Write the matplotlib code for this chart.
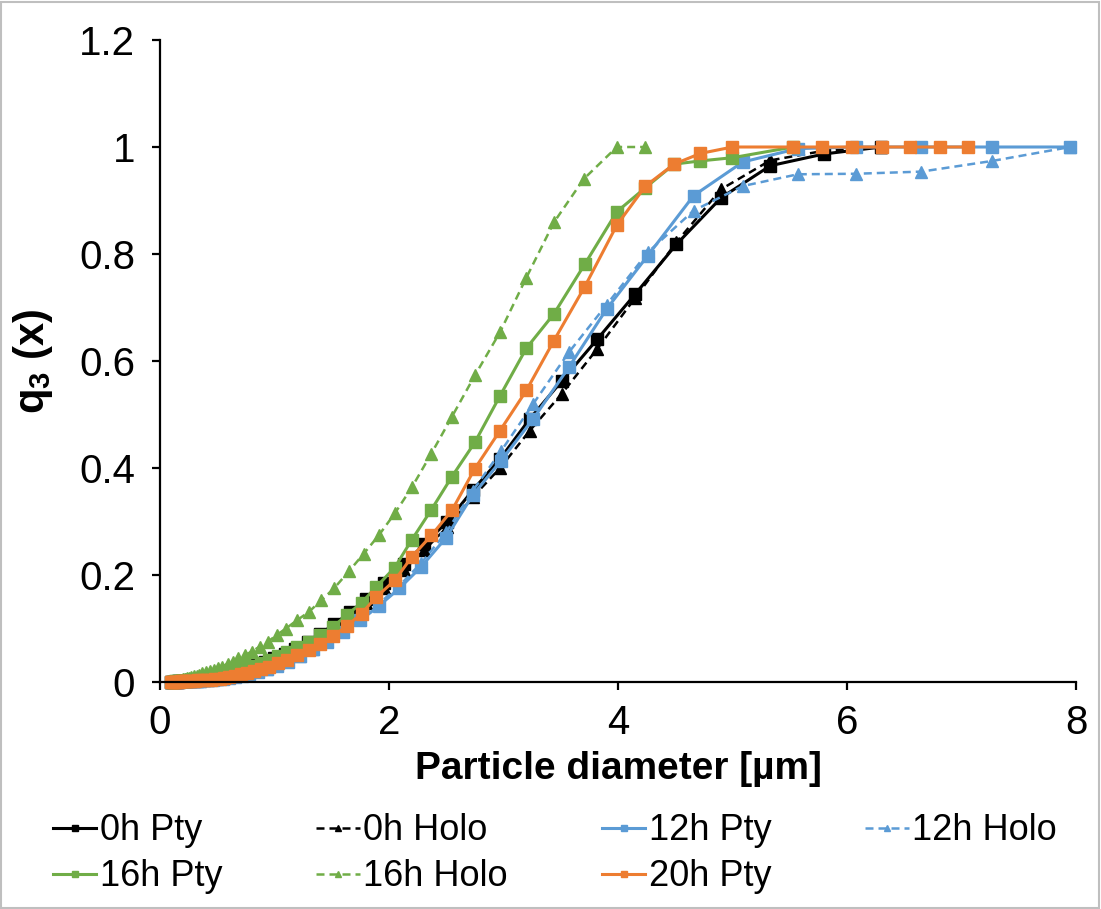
import matplotlib
matplotlib.use("Agg")
import matplotlib.pyplot as plt
from matplotlib.patches import Rectangle
from matplotlib.ticker import FormatStrFormatter, MultipleLocator

plt.rcParams['font.family'] = ['Liberation Sans', 'DejaVu Sans']
plt.rcParams['mathtext.fontset'] = 'custom'
plt.rcParams['mathtext.rm'] = 'Liberation Sans'
plt.rcParams['mathtext.bf'] = 'Liberation Sans:bold'

# particle diameter grids (um)
x_0h = [0.10, 0.11, 0.12, 0.135, 0.145, 0.16, 0.17, 0.19, 0.205, 0.22,
        0.24, 0.26, 0.285, 0.31, 0.34, 0.37, 0.40, 0.43, 0.47, 0.51,
        0.56, 0.61, 0.66, 0.72, 0.78, 0.85, 0.92, 1.00, 1.09, 1.18,
        1.29, 1.40, 1.52, 1.66, 1.80, 1.96, 2.13, 2.31, 2.51, 2.73,
        2.97, 3.23, 3.51, 3.82, 4.15, 4.51, 4.90, 5.33, 5.80, 6.30]
x_12h = [0.10, 0.11, 0.122, 0.133, 0.145, 0.16, 0.17, 0.19, 0.205, 0.225,
         0.245, 0.27, 0.295, 0.32, 0.35, 0.385, 0.42, 0.46, 0.50, 0.55,
         0.60, 0.655, 0.715, 0.78, 0.855, 0.935, 1.02, 1.12, 1.22, 1.34,
         1.46, 1.60, 1.75, 1.91, 2.09, 2.28, 2.50, 2.73, 2.98, 3.26,
         3.57, 3.90, 4.26, 4.66, 5.09, 5.57, 6.08, 6.65, 7.27, 7.95]
x_pty = [0.10, 0.106, 0.114, 0.123, 0.133, 0.143, 0.155, 0.167, 0.18, 0.195,
         0.21, 0.225, 0.243, 0.262, 0.285, 0.305, 0.33, 0.355, 0.385, 0.415,
         0.445, 0.48, 0.52, 0.56, 0.605, 0.655, 0.705, 0.76, 0.82, 0.885,
         0.955, 1.03, 1.11, 1.20, 1.30, 1.40, 1.51, 1.63, 1.76, 1.89,
         2.05, 2.20, 2.37, 2.55, 2.75, 2.97, 3.20, 3.44, 3.71, 3.99,
         4.24, 4.49, 4.72, 5.00, 5.53, 5.78, 6.04, 6.31, 6.55, 6.81, 7.06]
x_16h_holo = [0.10, 0.11, 0.118, 0.127, 0.137, 0.148, 0.16, 0.172, 0.185, 0.20,
              0.22, 0.235, 0.255, 0.275, 0.295, 0.32, 0.345, 0.37, 0.40, 0.435,
              0.47, 0.505, 0.545, 0.59, 0.635, 0.685, 0.74, 0.80, 0.87, 0.94,
              1.02, 1.10, 1.20, 1.30, 1.41, 1.52, 1.65, 1.78, 1.91, 2.05,
              2.20, 2.37, 2.55, 2.75, 2.97, 3.20, 3.44, 3.70, 3.99, 4.24]

# cumulative q3(x)
q_0h_pty = [0, 0, 0, 0, 0, 0.001, 0.001, 0.001, 0.001, 0.002,
            0.002, 0.003, 0.003, 0.004, 0.005, 0.006, 0.007, 0.008, 0.010, 0.012,
            0.014, 0.017, 0.020, 0.024, 0.028, 0.033, 0.038, 0.045, 0.053, 0.062,
            0.075, 0.090, 0.108, 0.130, 0.155, 0.185, 0.220, 0.258, 0.300, 0.358,
            0.417, 0.492, 0.563, 0.641, 0.725, 0.818, 0.905, 0.965, 0.987, 1.000]
q_0h_holo = [0, 0, 0, 0, 0, 0.001, 0.001, 0.001, 0.001, 0.001,
             0.002, 0.002, 0.003, 0.003, 0.004, 0.005, 0.006, 0.007, 0.009, 0.011,
             0.013, 0.016, 0.019, 0.022, 0.026, 0.031, 0.036, 0.042, 0.050, 0.059,
             0.071, 0.085, 0.102, 0.123, 0.147, 0.176, 0.210, 0.247, 0.290, 0.345,
             0.400, 0.470, 0.539, 0.623, 0.718, 0.822, 0.921, 0.975, 0.993, 1.000]
q_12h_pty = [0, 0, 0, 0, 0, 0, 0, 0.001, 0.001, 0.001,
             0.001, 0.001, 0.001, 0.002, 0.002, 0.003, 0.003, 0.004, 0.005, 0.006,
             0.008, 0.010, 0.012, 0.015, 0.019, 0.024, 0.030, 0.038, 0.048, 0.061,
             0.075, 0.093, 0.115, 0.142, 0.175, 0.215, 0.270, 0.349, 0.414, 0.492,
             0.588, 0.697, 0.797, 0.909, 0.972, 0.997, 1.0, 1.0, 1.0, 1.0]
q_12h_holo = [0, 0, 0, 0, 0, 0, 0.001, 0.001, 0.001, 0.001,
              0.001, 0.001, 0.002, 0.002, 0.002, 0.003, 0.004, 0.005, 0.006, 0.007,
              0.009, 0.011, 0.013, 0.016, 0.020, 0.025, 0.031, 0.039, 0.049, 0.062,
              0.077, 0.095, 0.118, 0.146, 0.180, 0.222, 0.280, 0.357, 0.432, 0.520,
              0.616, 0.705, 0.803, 0.881, 0.927, 0.949, 0.950, 0.954, 0.974, 1.0]
q_16h_pty = [0, 0, 0, 0, 0.001, 0.001, 0.001, 0.001, 0.001, 0.002,
             0.002, 0.002, 0.003, 0.003, 0.004, 0.004, 0.005, 0.006, 0.007, 0.008,
             0.009, 0.010, 0.012, 0.014, 0.016, 0.019, 0.022, 0.026, 0.030, 0.035,
             0.041, 0.048, 0.056, 0.065, 0.075, 0.088, 0.103, 0.125, 0.148, 0.178,
             0.214, 0.266, 0.322, 0.384, 0.448, 0.535, 0.624, 0.688, 0.781, 0.879,
             0.924, 0.968, 0.974, 0.980, 1.0]
q_16h_holo = [0.001, 0.001, 0.001, 0.002, 0.002, 0.003, 0.003, 0.004, 0.004, 0.005,
              0.006, 0.007, 0.008, 0.009, 0.011, 0.012, 0.014, 0.016, 0.018, 0.020,
              0.023, 0.026, 0.029, 0.034, 0.038, 0.044, 0.050, 0.057, 0.066, 0.075,
              0.088, 0.100, 0.116, 0.131, 0.153, 0.175, 0.207, 0.240, 0.274, 0.315,
              0.364, 0.427, 0.496, 0.573, 0.654, 0.756, 0.859, 0.940, 1.0, 1.0]
q_20h_pty = [0, 0, 0, 0, 0, 0, 0, 0, 0.001, 0.001,
             0.001, 0.001, 0.001, 0.002, 0.002, 0.002, 0.003, 0.003, 0.003, 0.004,
             0.004, 0.005, 0.006, 0.008, 0.010, 0.012, 0.015, 0.017, 0.020, 0.024,
             0.029, 0.035, 0.042, 0.050, 0.060, 0.072, 0.086, 0.104, 0.128, 0.159,
             0.190, 0.234, 0.274, 0.321, 0.399, 0.470, 0.545, 0.638, 0.739, 0.854,
             0.927, 0.968, 0.988, 1.0, 1.0, 1.0, 1.0, 1.0, 1.0, 1.0, 1.0]

black = '#000000'
blue = '#5B9BD5'
green = '#70AD47'
orange = '#ED7D31'

fig = plt.figure(figsize=(11.01, 9.09), dpi=100)
ax = fig.add_axes([0.1453, 0.2497, 0.832, 0.7063])

def pty(x, y, c, lab):
    return ax.plot(x, y, color=c, lw=2.2, marker='s', ms=9, label=lab, clip_on=False)[0]

def holo(x, y, c, lab):
    return ax.plot(x, y, color=c, lw=1.8, ls=(0, (3.2, 2.0)), marker='^', ms=9,
                   label=lab, clip_on=False)[0]

h = []
h.append(pty(x_0h, q_0h_pty, black, '0h Pty'))
h.append(holo(x_0h, q_0h_holo, black, '0h Holo'))
h.append(pty(x_12h, q_12h_pty, blue, '12h Pty'))
h.append(holo(x_12h, q_12h_holo, blue, '12h Holo'))
h.append(pty(x_pty[:len(q_16h_pty)], q_16h_pty, green, '16h Pty'))
h.append(holo(x_16h_holo, q_16h_holo, green, '16h Holo'))
h.append(pty(x_pty, q_20h_pty, orange, '20h Pty'))

ax.set_xlim(0, 8)
ax.set_ylim(0, 1.2)
ax.xaxis.set_major_locator(MultipleLocator(2))
ax.yaxis.set_major_locator(MultipleLocator(0.2))
ax.xaxis.set_major_formatter(FormatStrFormatter('%g'))
ax.yaxis.set_major_formatter(FormatStrFormatter('%g'))
for s in ['top', 'right']:
    ax.spines[s].set_visible(False)
for s in ['left', 'bottom']:
    ax.spines[s].set_linewidth(1.6)
ax.tick_params(direction='out', length=6, width=1.6, labelsize=29)
ax.tick_params(axis='y', pad=12)
ax.tick_params(axis='x', pad=10)

ax.set_xlabel('Particle diameter [µm]', fontsize=28, fontweight='bold', labelpad=6)
ax.set_ylabel(r'$\mathbf{q_3}$ (x)', fontsize=30, fontweight='bold')
ax.yaxis.set_label_coords(-0.115, 0.5)

order = [0, 4, 1, 5, 2, 6, 3]
fig.legend([h[i] for i in order], [h[i].get_label() for i in order],
           loc='upper left', bbox_to_anchor=(0.035, 0.121), ncol=4, frameon=False,
           fontsize=26, markerscale=0.55, handlelength=1.2, handletextpad=0.1,
           columnspacing=2.6, labelspacing=0.3, borderaxespad=0)

fig.patches.append(Rectangle((0.001, 0.001), 0.997, 0.997, transform=fig.transFigure,
                             fill=False, edgecolor='#bfbfbf', lw=1.5))

fig.savefig('out.png', dpi=100)
